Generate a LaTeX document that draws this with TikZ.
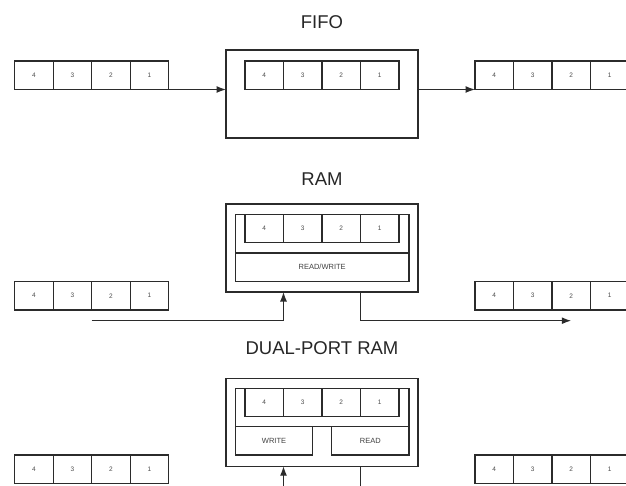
\documentclass[tikz,border=0pt]{standalone}
\usepackage{fontspec}
\setmainfont{Liberation Sans}
\usetikzlibrary{arrows.meta, calc}

\definecolor{linegray}{HTML}{2B2B2B}

\tikzset{
  cell/.style={draw=linegray, line width=1.3pt, minimum width=38.5pt, minimum height=28.5pt,
               inner sep=0pt, outer sep=0pt, font=\fontsize{6.5}{7}\selectfont, text=black!70},
  unit/.style={draw=linegray, line width=1.3pt, minimum width=192pt, minimum height=88pt,
               inner sep=0pt, outer sep=0pt},
  port/.style={draw=linegray, line width=1.3pt, minimum height=28.5pt, inner sep=0pt,
               outer sep=0pt, font=\fontsize{7.5}{8}\selectfont, text=black!75},
  title/.style={font=\fontsize{18.5}{20}\selectfont, text=black!85},
  wire/.style={draw=linegray, line width=1.3pt}
}

% one row of four cells: name, left edge, top edge
\newcommand{\cellrow}[3]{%
  \foreach \n [count=\i from 0] in {4,3,2,1}
    \node[cell] (#1-\n) at ({#2+38.5*\i+19.25},{#3+14.25}) {\n};}

\begin{document}
\begin{tikzpicture}[x=1pt, y=-1pt, >={Latex[length=9.5pt,width=7pt]}]
  \useasboundingbox (0,0) rectangle (626,486);

  % FIFO
  \node[title] (fifot) at (322,21.7) {FIFO};
  \node[unit] (fifo) at (322,94) {};
  \cellrow{fifoin}{14.7}{61}
  \cellrow{fifoq}{245}{61}
  \cellrow{fifoout}{475}{61}
  \draw[wire, ->] (fifoin-1.south east) -- (fifoin-1.south east -| fifo.west);
  \draw[wire, ->] (fifo.east |- fifoout-4.south west) -- (fifoout-4.south west);

  % RAM
  \node[title] (ramt) at (322,179) {RAM};
  \node[unit] (ram) at (322,248) {};
  \cellrow{ramq}{245}{214.3}
  \node[port, minimum width=173.7pt] (rw) at (322.15,267.2) {READ/WRITE};
  \draw[wire] (rw.north west) |- (ramq-4.north west) -- (ramq-1.north east) -| (rw.north east);
  \cellrow{ramin}{14.7}{281.5}
  \cellrow{ramout}{475}{281.5}
  \coordinate (ramsrc) at ([yshift=-10.7pt]ramin-2.south west);
  \coordinate (ramdst) at ([yshift=-10.7pt]ramout-2.south);
  \draw[wire, ->] (ramsrc) -| (ramq-3.west |- ram.south);
  \draw[wire, ->] (ramq-1.west |- ram.south) |- (ramdst);

  % DUAL-PORT RAM
  \node[title] (dualt) at (322,348) {DUAL-PORT RAM};
  \node[unit] (dual) at (322,422.2) {};
  \cellrow{dualq}{245}{388.3}
  \node[port, minimum width=77.4pt] (wr) at (274,440.85) {WRITE};
  \node[port, minimum width=77.4pt] (rd) at (370.35,440.85) {READ};
  \draw[wire] (wr.north west) |- (dualq-4.north west) -- (dualq-1.north east) -| (rd.north east);
  \draw[wire] (wr.north east) -- (rd.north west);
  \cellrow{dualin}{14.7}{455}
  \cellrow{dualout}{475}{455}
  \coordinate (dualsrc) at (dualq-3.west |- 0,486);
  \coordinate (dualdst) at (dualq-1.west |- 0,486);
  \draw[wire, ->] (dualsrc) -- (dualsrc |- dual.south);
  \draw[wire] (dualq-1.west |- dual.south) -- (dualdst);
\end{tikzpicture}
\end{document}
